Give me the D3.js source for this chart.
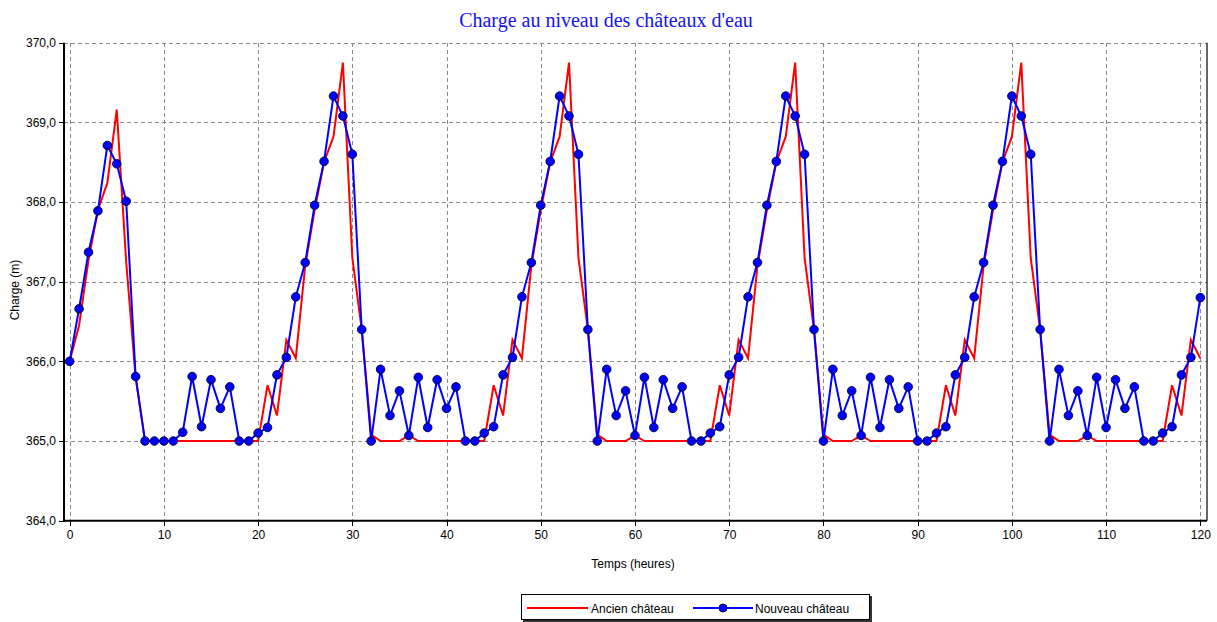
<!DOCTYPE html>
<html>
<head>
<meta charset="utf-8">
<script src="https://cdn.jsdelivr.net/npm/d3@7/dist/d3.min.js"></script>
<style>
  html, body { margin: 0; padding: 0; background: #ffffff; }
  svg { display: block; }
</style>
</head>
<body>
<svg id="chart" width="1217" height="622"></svg>
<script>
// Hours 0..120
const hours = d3.range(0, 121);

// Water level at the old tank (m), hourly
const ancienChateau = [
  366.00, 366.45, 367.27, 367.90, 368.24, 369.16, 367.25, 365.80, 365.00, 365.00,
  365.00, 365.00, 365.00, 365.00, 365.00, 365.00, 365.00, 365.00, 365.00, 365.00,
  365.00, 365.70, 365.32, 366.27, 366.04, 367.20, 367.90, 368.50, 368.82, 369.75,
  367.30, 366.40, 365.08, 365.00, 365.00, 365.00, 365.07, 365.00, 365.00, 365.00,
  365.00, 365.00, 365.00, 365.00, 365.00, 365.70, 365.32, 366.27, 366.04, 367.20,
  367.90, 368.50, 368.82, 369.75, 367.30, 366.40, 365.08, 365.00, 365.00, 365.00,
  365.07, 365.00, 365.00, 365.00, 365.00, 365.00, 365.00, 365.00, 365.00, 365.70,
  365.32, 366.27, 366.04, 367.20, 367.90, 368.50, 368.82, 369.75, 367.30, 366.40,
  365.08, 365.00, 365.00, 365.00, 365.07, 365.00, 365.00, 365.00, 365.00, 365.00,
  365.00, 365.00, 365.00, 365.70, 365.32, 366.27, 366.04, 367.20, 367.90, 368.50,
  368.82, 369.75, 367.30, 366.40, 365.08, 365.00, 365.00, 365.00, 365.07, 365.00,
  365.00, 365.00, 365.00, 365.00, 365.00, 365.00, 365.00, 365.70, 365.32, 366.27,
  366.04
];

// Water level at the new tank (m), hourly
const nouveauChateau = [
  366.00, 366.66, 367.37, 367.89, 368.71, 368.48, 368.01, 365.81, 365.00, 365.00,
  365.00, 365.00, 365.11, 365.81, 365.18, 365.77, 365.41, 365.68, 365.00, 365.00,
  365.10, 365.17, 365.83, 366.05, 366.81, 367.24, 367.96, 368.51, 369.33, 369.08,
  368.60, 366.40, 365.00, 365.90, 365.32, 365.63, 365.07, 365.80, 365.17, 365.77,
  365.41, 365.68, 365.00, 365.00, 365.10, 365.18, 365.83, 366.05, 366.81, 367.24,
  367.96, 368.51, 369.33, 369.08, 368.60, 366.40, 365.00, 365.90, 365.32, 365.63,
  365.07, 365.80, 365.17, 365.77, 365.41, 365.68, 365.00, 365.00, 365.10, 365.18,
  365.83, 366.05, 366.81, 367.24, 367.96, 368.51, 369.33, 369.08, 368.60, 366.40,
  365.00, 365.90, 365.32, 365.63, 365.07, 365.80, 365.17, 365.77, 365.41, 365.68,
  365.00, 365.00, 365.10, 365.18, 365.83, 366.05, 366.81, 367.24, 367.96, 368.51,
  369.33, 369.08, 368.60, 366.40, 365.00, 365.90, 365.32, 365.63, 365.07, 365.80,
  365.17, 365.77, 365.41, 365.68, 365.00, 365.00, 365.10, 365.18, 365.83, 366.05,
  366.80
];

const xTicks = [0, 10, 20, 30, 40, 50, 60, 70, 80, 90, 100, 110, 120];
const yTicks = [364, 365, 366, 367, 368, 369, 370];

const titleText = "Charge au niveau des châteaux d'eau";
const xLabel = "Temps (heures)";
const yLabel = "Charge (m)";
const seriesNames = ["Ancien château", "Nouveau château"];

const svg = d3.select("#chart");

// Plot frame
const frame = { left: 64, right: 1207, top: 42.7, bottom: 520.7 };

const x = d3.scaleLinear().domain([-0.6, 120.71]).range([frame.left, frame.right]);
const y = d3.scaleLinear().domain([364, 370]).range([frame.bottom, frame.top]);

const fmt = v => d3.format(".1f")(v).replace(".", ",");

// Grid
const grid = svg.append("g").attr("stroke", "#8a8a8a").attr("stroke-width", 1)
  .attr("stroke-dasharray", "4,3").attr("shape-rendering", "crispEdges");
grid.selectAll("line.gy").data(yTicks.filter(d => d > 364)).enter().append("line")
  .attr("x1", frame.left).attr("x2", frame.right)
  .attr("y1", d => Math.round(y(d)) + 0.5).attr("y2", d => Math.round(y(d)) + 0.5);
grid.selectAll("line.gx").data(xTicks).enter().append("line")
  .attr("x1", d => Math.round(x(d)) + 0.5).attr("x2", d => Math.round(x(d)) + 0.5)
  .attr("y1", frame.top).attr("y2", frame.bottom);

// Axes (d3 axis generators for ticks and labels)
const yAxis = d3.axisLeft(y).tickValues(yTicks).tickFormat(fmt).tickSize(5).tickPadding(3);
const xAxis = d3.axisBottom(x).tickValues(xTicks).tickFormat(d3.format("d")).tickSize(5).tickPadding(5);

const gy = svg.append("g").attr("transform", `translate(${frame.left},0)`).call(yAxis);
const gx = svg.append("g").attr("transform", `translate(0,${frame.bottom})`).call(xAxis);
[gx, gy].forEach(g => {
  g.select(".domain").remove();
  g.selectAll(".tick line").attr("stroke", "#000").attr("shape-rendering", "crispEdges");
  g.selectAll(".tick text").attr("fill", "#000")
    .style("font-family", "'Liberation Sans', Arial, sans-serif").style("font-size", "12px");
});

// Axis lines: heavy left and bottom, thin right
svg.append("line").attr("x1", frame.left).attr("x2", frame.left)
  .attr("y1", frame.top).attr("y2", frame.bottom + 1)
  .attr("stroke", "#000").attr("stroke-width", 2);
svg.append("line").attr("x1", frame.left - 1).attr("x2", frame.right)
  .attr("y1", frame.bottom).attr("y2", frame.bottom)
  .attr("stroke", "#000").attr("stroke-width", 2);
svg.append("line").attr("x1", frame.right).attr("x2", frame.right)
  .attr("y1", frame.top).attr("y2", frame.bottom)
  .attr("stroke", "#000").attr("stroke-width", 1.2);

// Series
const line = d3.line().x((d, i) => x(hours[i])).y(d => y(d));

svg.append("path").datum(ancienChateau)
  .attr("fill", "none").attr("stroke", "#ff0000").attr("stroke-width", 2)
  .attr("stroke-linejoin", "miter").attr("d", line);

svg.append("path").datum(nouveauChateau)
  .attr("fill", "none").attr("stroke", "#0000ff").attr("stroke-width", 2)
  .attr("d", line);

svg.append("g").selectAll("circle").data(nouveauChateau).enter().append("circle")
  .attr("cx", (d, i) => x(hours[i])).attr("cy", d => y(d)).attr("r", 4.3)
  .attr("fill", "#0000ff").attr("stroke", "#000033").attr("stroke-width", 0.9);

// Title
svg.append("text").attr("x", 606).attr("y", 27).attr("text-anchor", "middle")
  .attr("fill", "#1414f0")
  .style("font-family", "'Liberation Serif', 'Times New Roman', serif")
  .style("font-size", "20px")
  .text(titleText);

// Axis titles
svg.append("text").attr("x", 633).attr("y", 568).attr("text-anchor", "middle")
  .attr("fill", "#000")
  .style("font-family", "'Liberation Sans', Arial, sans-serif").style("font-size", "12px")
  .text(xLabel);

svg.append("text").attr("transform", "translate(19,290) rotate(-90)")
  .attr("text-anchor", "middle").attr("fill", "#000")
  .style("font-family", "'Liberation Sans', Arial, sans-serif").style("font-size", "12px")
  .text(yLabel);

// Legend
const lg = svg.append("g").attr("transform", "translate(521,594)");
lg.append("rect").attr("x", 2).attr("y", 2).attr("width", 349).attr("height", 26).attr("fill", "#333");
lg.append("rect").attr("x", 0.5).attr("y", 0.5).attr("width", 348).attr("height", 25)
  .attr("fill", "#fff").attr("stroke", "#000").attr("stroke-width", 1);

lg.append("line").attr("x1", 6).attr("x2", 67).attr("y1", 14).attr("y2", 14)
  .attr("stroke", "#ff0000").attr("stroke-width", 2);
lg.append("text").attr("x", 70).attr("y", 18.5).attr("fill", "#000")
  .style("font-family", "'Liberation Sans', Arial, sans-serif").style("font-size", "12px")
  .text(seriesNames[0]);

lg.append("line").attr("x1", 172).attr("x2", 232).attr("y1", 14).attr("y2", 14)
  .attr("stroke", "#0000ff").attr("stroke-width", 2);
lg.append("circle").attr("cx", 202).attr("cy", 14).attr("r", 4)
  .attr("fill", "#0000ff").attr("stroke", "#000033").attr("stroke-width", 0.9);
lg.append("text").attr("x", 234).attr("y", 18.5).attr("fill", "#000")
  .style("font-family", "'Liberation Sans', Arial, sans-serif").style("font-size", "12px")
  .text(seriesNames[1]);
</script>
</body>
</html>
